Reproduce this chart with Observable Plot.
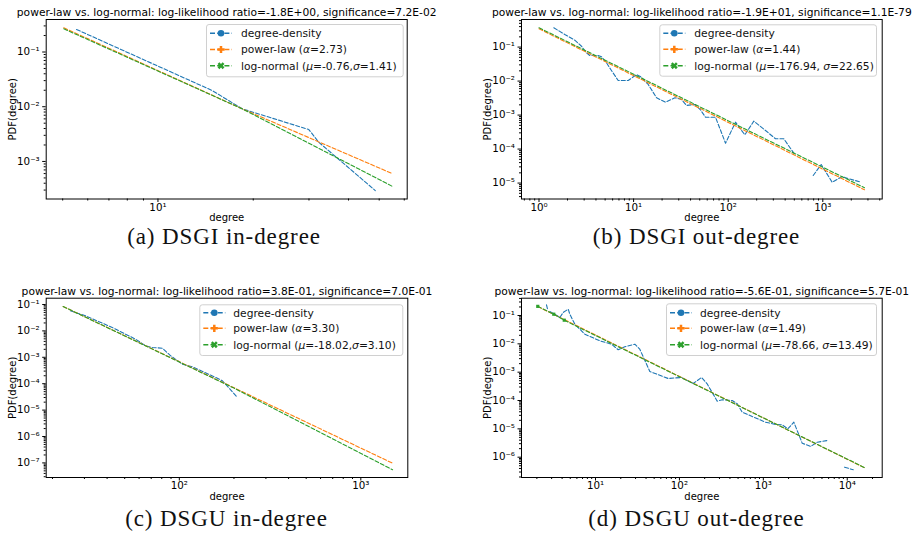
<!DOCTYPE html>
<html><head><meta charset="utf-8">
<script src="https://cdn.jsdelivr.net/npm/d3@7"></script>
<script src="https://cdn.jsdelivr.net/npm/@observablehq/plot@0.6"></script>
<style>
html,body{margin:0;padding:0;background:#fff;}
#root{position:relative;width:920px;height:539px;overflow:hidden;font-family:"DejaVu Sans";}
.panel{position:absolute;}
#overlay{position:absolute;left:0;top:0;}
</style></head><body><div id="root"></div>
<script>
// ---------- Panel (a) DSGI in-degree ----------
const aTitle = "power-law vs. log-normal: log-likelihood ratio=-1.8E+00, significance=7.2E-02";
const aBlueX = [5.53, 14.83, 18.45, 29.96, 32.2, 48.6];
const aBlueY = [0.258, 0.0198, 0.00916, 0.00383, 0.00225, 0.000294];
const aPowX = [5.04, 18.45, 54.95];
const aPowY = [0.277, 0.00916, 0.000601];
const aLogX = [5.04, 18.45, 54.95];
const aLogY = [0.2655, 0.00916, 0.000352];
const aXMajor = [10];
const aXMinor = [5, 6, 7, 8, 9, 20, 30, 40, 50, 60];
const aYMajor = [0.1, 0.01, 0.001];
const aYMinor = [0.3, 0.2, 0.09, 0.08, 0.07, 0.06, 0.05, 0.04, 0.03, 0.02, 0.009, 0.008, 0.007, 0.006, 0.005, 0.004, 0.003, 0.002, 0.0009, 0.0008, 0.0007, 0.0006, 0.0005, 0.0004, 0.0003];
const aLegend = [["degree-density"], ["power-law (", "α", "=2.73)"], ["log-normal (", "μ", "=-0.76,", "σ", "=1.41)"]];
const aCaption = "(a) DSGI in-degree";

// ---------- Panel (b) DSGI out-degree ----------
const bTitle = "power-law vs. log-normal: log-likelihood ratio=-1.9E+01, significance=1.1E-79";
const bBlueX = [1.434, 1.874, 2.388, 2.814, 3.18, 3.44, 4.22, 4.58, 5.17, 5.74, 6.87, 8.77, 10.74, 11.9, 14.27, 17.5, 21.7, 27.3, 32.1, 36.2, 44.4, 50.9, 57.5, 73.4, 93.7, 119.5, 149.8, 186.5, 248, 316, 387, 494, 620, 792, 962, 1256, 1603, 1883, 2547];
const bBlueY = [0.370, 0.235, 0.160, 0.106, 0.0679, 0.0567, 0.0567, 0.0519, 0.0345, 0.0219, 0.0104, 0.0104, 0.0156, 0.01337, 0.00794, 0.00323, 0.00239, 0.00323, 0.00288, 0.00192, 0.00205, 0.00143, 0.000867, 0.000867, 0.000149, 0.000618, 0.000263, 0.000662, 0.000352, 0.000201, 0.000201, 0.0000757, null, 0.0000167, 0.0000352, 0.0000106, 0.0000156, 0.0000134, 0.0000106];
const bPowX = [1, 2760];
const bPowY = [0.345, 0.00000635];
const bLogX = [1, 2760];
const bLogY = [0.37, 0.0000073];
const bXMajor = [1, 10, 100, 1000];
const bXMinor = [0.7, 0.8, 0.9, 2, 3, 4, 5, 6, 7, 8, 9, 20, 30, 40, 50, 60, 70, 80, 90, 200, 300, 400, 500, 600, 700, 800, 900, 2000, 3000, 4000];
const bYMajor = [0.1, 0.01, 0.001, 0.0001, 0.00001];
const bYMinor = [0.6, 0.5, 0.4, 0.3, 0.2, 0.09, 0.08, 0.07, 0.06, 0.05, 0.04, 0.03, 0.02, 0.009, 0.008, 0.007, 0.006, 0.005, 0.004, 0.003, 0.002, 9e-4, 8e-4, 7e-4, 6e-4, 5e-4, 4e-4, 3e-4, 2e-4, 9e-5, 8e-5, 7e-5, 6e-5, 5e-5, 4e-5, 3e-5, 2e-5, 9e-6, 8e-6, 7e-6, 6e-6, 5e-6, 4e-6];
const bLegend = [["degree-density"], ["power-law (", "α", "=1.44)"], ["log-normal (", "μ", "=-176.94, ", "σ", "=22.65)"]];
const bCaption = "(b) DSGI out-degree";

// ---------- Panel (c) DSGU in-degree ----------
const cTitle = "power-law vs. log-normal: log-likelihood ratio=3.8E-01, significance=7.0E-01";
const cBlueX = [25.1, 30.4, 42.7, 57.4, 65.2, 71.0, 80.6, 89.6, 103.9, 118, 158.6, 172.7, 209];
const cBlueY = [0.0577, 0.0373, 0.01346, 0.00485, 0.00273, 0.00235, 0.00221, 0.00114, 0.000548, 0.000437, 0.000172, 0.000129, 0.0000300];
const cPowX = [22.9, 1496];
const cPowY = [0.084, 0.0000000975];
const cLogX = [22.9, 200, 601, 1496];
const cLogY = [0.084, 0.000068, 0.0000014, 0.0000000548];
const cXMajor = [100, 1000];
const cXMinor = [20, 30, 40, 50, 60, 70, 80, 90, 200, 300, 400, 500, 600, 700, 800, 900];
const cYMajor = [1e-1, 1e-2, 1e-3, 1e-4, 1e-5, 1e-6, 1e-7];
const cYMinor = [0.09, 0.08, 0.07, 0.06, 0.05, 0.04, 0.03, 0.02, 9e-3, 8e-3, 7e-3, 6e-3, 5e-3, 4e-3, 3e-3, 2e-3, 9e-4, 8e-4, 7e-4, 6e-4, 5e-4, 4e-4, 3e-4, 2e-4, 9e-5, 8e-5, 7e-5, 6e-5, 5e-5, 4e-5, 3e-5, 2e-5, 9e-6, 8e-6, 7e-6, 6e-6, 5e-6, 4e-6, 3e-6, 2e-6, 9e-7, 8e-7, 7e-7, 6e-7, 5e-7, 4e-7, 3e-7, 2e-7, 9e-8, 8e-8, 7e-8, 6e-8, 5e-8, 4e-8, 3e-8];
const cLegend = [["degree-density"], ["power-law (", "α", "=3.30)"], ["log-normal (", "μ", "=-18.02,", "σ", "=3.10)"]];
const cCaption = "(c) DSGU in-degree";

// ---------- Panel (d) DSGU out-degree ----------
const dTitle = "power-law vs. log-normal: log-likelihood ratio=-5.6E-01, significance=5.7E-01";
const dBlueX = [2.606, 2.68, 2.75, 2.853, 3.27, 3.755, 4.12, 4.73, 4.94, 5.67, 6.5, 7.46, 11.25, 15.5, 18.65, 22.3, 29.4, 33.7, 44.4, 73.5, 105.9, 146, 183.4, 214, 282, 323.6, 425.6, 488.6, 560.5, 770.6, 1062, 1398, 1679, 1959, 2310, 2908, 3652, 4389, 5781, 7500, 9296, 11790];
const dBlueY = [0.239, 0.167, null, 0.138, 0.111, 0.085, 0.1276, 0.167, 0.111, 0.0493, 0.0329, 0.0219, 0.0128, 0.00971, 0.00616, 0.00787, 0.00971, 0.00647, 0.001057, 0.000598, 0.000649, 0.000399, 0.000649, 0.000389, 0.0000946, 0.000106, 0.0001, 0.0000766, 0.0000387, 0.0000258, 0.0000172, 0.0000143, 0.0000139, 0.00001, 0.0000172, 0.00000312, 0.00000239, 0.00000338, 0.00000388, null, 0.000000444, 0.000000359];
const dPowX = [2.05, 16070];
const dPowY = [0.208, 0.000000422];
const dLogX = [2.05, 3.18, 4.24, 16070];
const dLogY = [0.21, 0.111, 0.0683, 0.00000043];
const dXMajor = [10, 100, 1000, 10000];
const dXMinor = [2, 3, 4, 5, 6, 7, 8, 9, 20, 30, 40, 50, 60, 70, 80, 90, 200, 300, 400, 500, 600, 700, 800, 900, 2000, 3000, 4000, 5000, 6000, 7000, 8000, 9000, 20000];
const dYMajor = [1e-1, 1e-2, 1e-3, 1e-4, 1e-5, 1e-6];
const dYMinor = [0.4, 0.3, 0.2, 0.09, 0.08, 0.07, 0.06, 0.05, 0.04, 0.03, 0.02, 9e-3, 8e-3, 7e-3, 6e-3, 5e-3, 4e-3, 3e-3, 2e-3, 9e-4, 8e-4, 7e-4, 6e-4, 5e-4, 4e-4, 3e-4, 2e-4, 9e-5, 8e-5, 7e-5, 6e-5, 5e-5, 4e-5, 3e-5, 2e-5, 9e-6, 8e-6, 7e-6, 6e-6, 5e-6, 4e-6, 3e-6, 2e-6, 9e-7, 8e-7, 7e-7, 6e-7, 5e-7, 4e-7, 3e-7, 2e-7];
const dLegend = [["degree-density"], ["power-law (", "α", "=1.49)"], ["log-normal (", "μ", "=-78.66, ", "σ", "=13.49)"]];
const dCaption = "(d) DSGU out-degree";

const xLabel = "degree";
const yLabel = "PDF(degree)";
const COLORS = ["#1f77b4", "#ff7f0e", "#2ca02c"];

// ---------- helpers ----------
const SUP = {"-": "\u207B", "0": "\u2070", "1": "\u00B9", "2": "\u00B2", "3": "\u00B3", "4": "\u2074", "5": "\u2075", "6": "\u2076", "7": "\u2077", "8": "\u2078", "9": "\u2079"};
const fmtPow = v => "10" + String(Math.round(Math.log10(v))).split("").map(c => SUP[c]).join("");
const rows = (X, Y) => X.map((x, i) => ({x, y: Y[i]}));

const panels = [
  {left: 0, top: 0, width: 460, height: 230, ml: 45.7, mr: 53.3, mt: 19, mb: 31.5,
   xd: [4.435, 61.3], yd: [2.06e-4, 0.3926], title: aTitle,
   blue: rows(aBlueX, aBlueY), pow: rows(aPowX, aPowY), logn: rows(aLogX, aLogY),
   xMaj: aXMajor, xMin: aXMinor, yMaj: aYMajor, yMin: aYMinor, titleDy: -3.3, xlDy: 22},
  {left: 460, top: 0, width: 460, height: 230, ml: 61, mr: 38.3, mt: 19, mb: 31.5,
   xd: [0.653, 4245], yd: [3.4e-6, 0.648], title: bTitle,
   blue: rows(bBlueX, bBlueY), pow: rows(bPowX, bPowY), logn: rows(bLogX, bLogY),
   xMaj: bXMajor, xMin: bXMinor, yMaj: bYMajor, yMin: bYMinor, titleDy: -3.3, xlDy: 22},
  {left: 0, top: 270, width: 460, height: 235, ml: 45.7, mr: 52.7, mt: 27.7, mb: 28,
   xd: [18.47, 1815], yd: [2.8e-8, 0.173], title: cTitle,
   blue: rows(cBlueX, cBlueY), pow: rows(cPowX, cPowY), logn: rows(cLogX, cLogY),
   xMaj: cXMajor, xMin: cXMinor, yMaj: cYMajor, yMin: cYMinor, titleDy: -2.8, xlDy: 22},
  {left: 460, top: 270, width: 460, height: 235, ml: 61, mr: 38.3, mt: 27.7, mb: 28,
   xd: [1.312, 26100], yd: [1.92e-7, 0.4076], title: dTitle,
   blue: rows(dBlueX, dBlueY), pow: rows(dPowX, dPowY), logn: rows(dLogX, dLogY),
   xMaj: dXMajor, xMin: dXMinor, yMaj: dYMajor, yMin: dYMinor, titleDy: -2.8, xlDy: 22,
   marks: rows(dLogX.slice(0, 3), dLogY.slice(0, 3))}
];

const root = document.getElementById("root");
const dash = "4,2";
panels.forEach(p => {
  const marks = [
    Plot.line(p.blue, {x: "x", y: "y", stroke: COLORS[0], strokeWidth: 1.1, strokeDasharray: dash}),
    Plot.line(p.pow, {x: "x", y: "y", stroke: COLORS[1], strokeWidth: 1.1, strokeDasharray: dash}),
    Plot.line(p.logn, {x: "x", y: "y", stroke: COLORS[2], strokeWidth: 1.1, strokeDasharray: dash}),
  ];
  if (p.marks) marks.push(Plot.dot(p.marks, {x: "x", y: "y", fill: COLORS[2], r: 1.8, symbol: "square"}));
  marks.push(
    Plot.frame({stroke: "black", strokeWidth: 1}),
    Plot.axisX(p.xMaj, {tickSize: 3.5, tickPadding: 1, tickFormat: fmtPow, fontSize: 10.3, label: null}),
    Plot.axisX(p.xMin, {tickSize: 2, tickFormat: () => "", label: null}),
    Plot.axisY(p.yMaj, {tickSize: 3.5, tickPadding: 3, tickFormat: fmtPow, fontSize: 10.3, label: null}),
    Plot.axisY(p.yMin, {tickSize: 2, tickFormat: () => "", label: null}),
    Plot.text([p.title], {text: d => d, frameAnchor: "top", lineAnchor: "bottom", dy: p.titleDy, fontSize: 10.7}),
    Plot.text([xLabel], {text: d => d, frameAnchor: "bottom", lineAnchor: "bottom", dy: p.xlDy, fontSize: 10}),
    Plot.text([yLabel], {text: d => d, frameAnchor: "left", rotate: -90, textAnchor: "middle", lineAnchor: "middle", dx: -33.5, fontSize: 10})
  );
  const chart = Plot.plot({
    width: p.width, height: p.height,
    marginLeft: p.ml, marginRight: p.mr, marginTop: p.mt, marginBottom: p.mb,
    x: {type: "log", domain: p.xd, label: null},
    y: {type: "log", domain: p.yd, label: null},
    style: {fontFamily: "DejaVu Sans", fontSize: "10px", background: "transparent", overflow: "visible", color: "black"},
    marks
  });
  chart.classList.add("panel");
  chart.style.left = p.left + "px";
  chart.style.top = p.top + "px";
  root.appendChild(chart);
});

// ---------- overlay: legends + captions ----------
const svg = d3.select(root).append("svg").attr("id", "overlay").attr("width", 920).attr("height", 539);
const legends = [
  {x: 206, y: 24, w: 196.7, h: 52.3, rowY: [9.3, 25.5, 41.7], tx: 35, rows: aLegend},
  {x: 659.3, y: 24.3, w: 216.7, h: 51.4, rowY: [9, 25, 41.4], tx: 35, rows: bLegend},
  {x: 199.3, y: 304.3, w: 203, h: 50.7, rowY: [8.4, 24, 40.4], tx: 34, rows: cLegend},
  {x: 666, y: 303.3, w: 210, h: 51.7, rowY: [9.4, 25, 41.4], tx: 34, rows: dLegend}
];
const plusPath = "M-1.25,-3.6h2.5v2.35h2.35v2.5h-2.35v2.35h-2.5v-2.35h-2.35v-2.5h2.35z";
legends.forEach(L => {
  const g = svg.append("g").attr("transform", `translate(${L.x},${L.y})`);
  g.append("rect").attr("x", 0.5).attr("y", 0.5).attr("width", L.w).attr("height", L.h).attr("rx", 2.5)
    .attr("fill", "rgba(255,255,255,0.8)").attr("stroke", "#d0d0d0").attr("stroke-width", 1);
  L.rows.forEach((parts, i) => {
    const cy = L.rowY[i], c = COLORS[i];
    g.append("line").attr("x1", 4).attr("x2", 26).attr("y1", cy).attr("y2", cy)
      .attr("stroke", c).attr("stroke-width", 1.5).attr("stroke-dasharray", "5,2.2");
    const mx = 15;
    if (i === 0) g.append("circle").attr("cx", mx).attr("cy", cy).attr("r", 3.3).attr("fill", c);
    else if (i === 1) g.append("path").attr("d", plusPath).attr("transform", `translate(${mx},${cy})`).attr("fill", c);
    else g.append("path").attr("d", plusPath).attr("transform", `translate(${mx},${cy}) rotate(45)`).attr("fill", c);
    const t = g.append("text").attr("x", L.tx).attr("y", cy).attr("dy", "0.36em")
      .attr("font-family", "DejaVu Sans").attr("font-size", 10.7).attr("fill", "#111");
    parts.forEach((s, j) => t.append("tspan").text(s).attr("font-style", j % 2 ? "italic" : null));
  });
});
const captions = [
  {x: 224, y: 243.5, t: aCaption},
  {x: 696.5, y: 243.5, t: bCaption},
  {x: 226.5, y: 525.5, t: cCaption},
  {x: 696.5, y: 525.5, t: dCaption}
];
captions.forEach(c => svg.append("text").attr("x", c.x).attr("y", c.y).attr("text-anchor", "middle")
  .attr("font-family", "Liberation Serif").attr("font-size", 23).attr("letter-spacing", "0.9px")
  .attr("fill", "#111").text(c.t));
</script></body></html>
